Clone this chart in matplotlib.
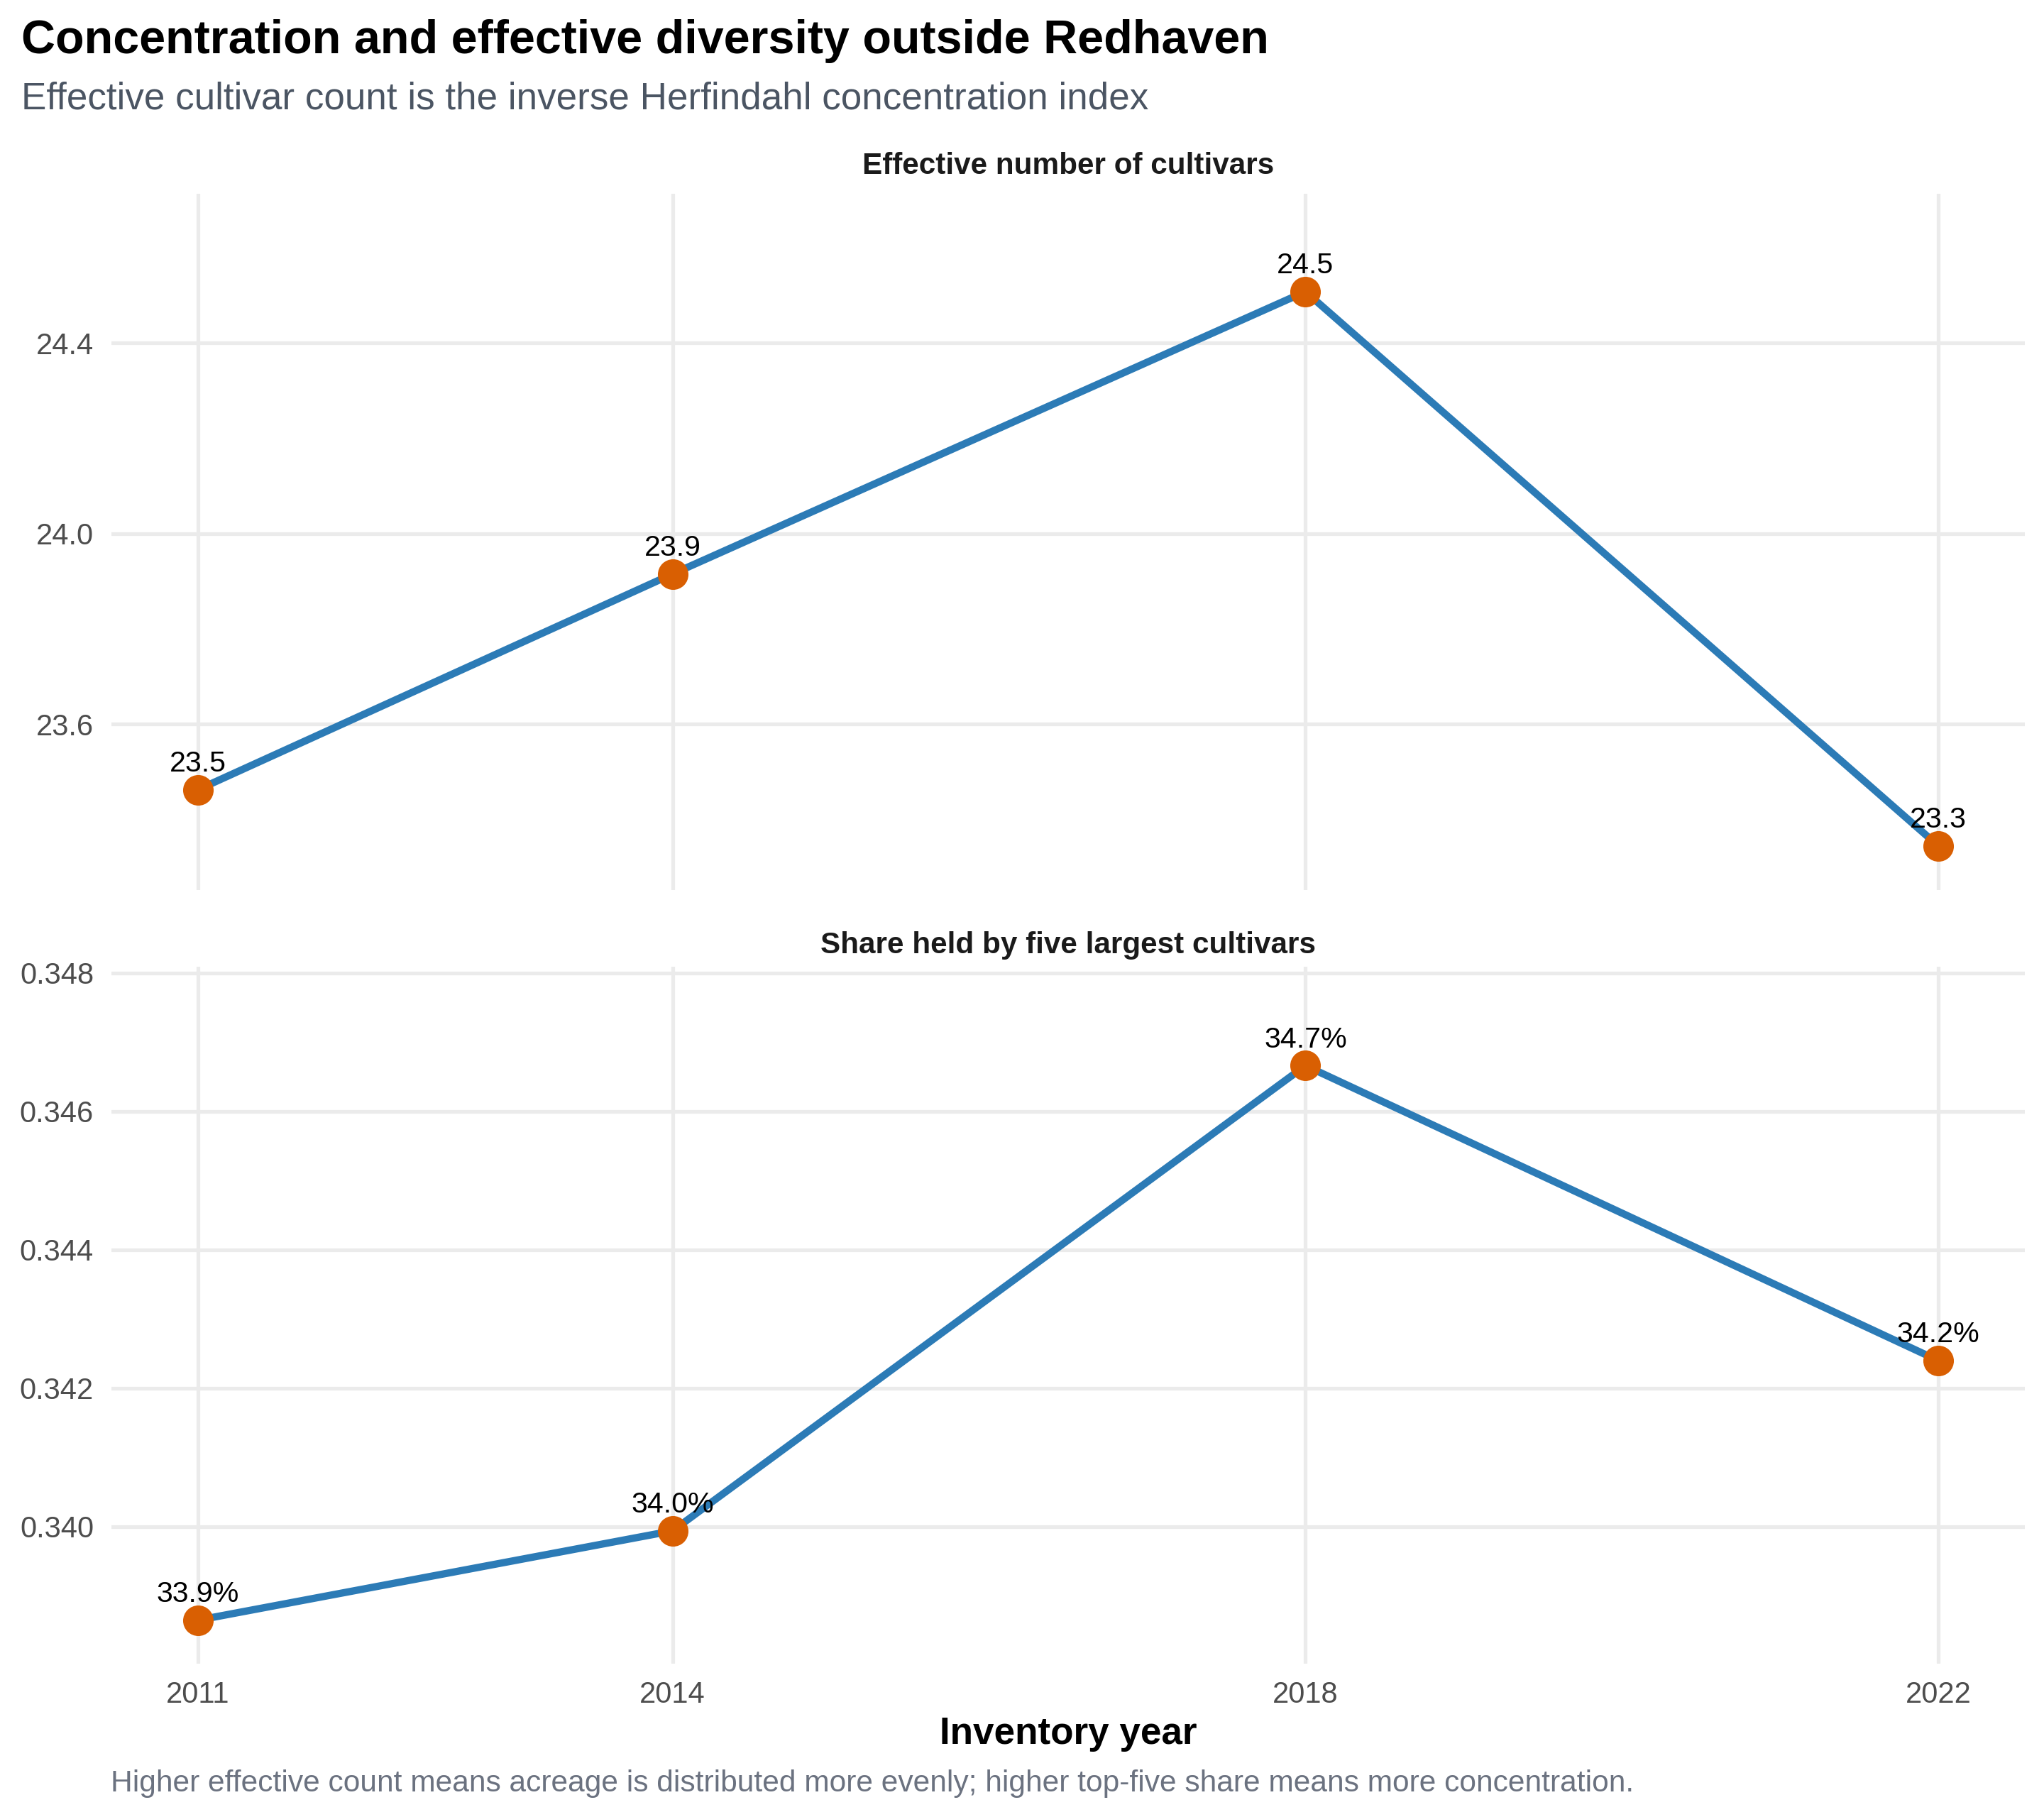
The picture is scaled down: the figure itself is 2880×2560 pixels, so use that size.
import matplotlib
matplotlib.use("Agg")
import matplotlib.pyplot as plt
from matplotlib.ticker import FixedLocator, FormatStrFormatter

# Datos
years = [2011, 2014, 2018, 2022]
effective_count = [23.462, 23.915, 24.508, 23.344]
top5_share = [0.33865, 0.33994, 0.34666, 0.34240]

count_labels = [f"{v:.1f}" for v in effective_count]
share_labels = [f"{v * 100:.1f}%" for v in top5_share]

# Estilo
plt.rcParams.update({
    "font.family": ["Liberation Sans", "DejaVu Sans"],
    "axes.facecolor": "white",
    "figure.facecolor": "white",
})

W, H = 2880, 2560
DPI = 200
fig = plt.figure(figsize=(W / DPI, H / DPI), dpi=DPI)

LINE_COLOR = "#2c7bb6"
POINT_COLOR = "#d95f02"
GRID_COLOR = "#ebebeb"
TICK_COLOR = "#4d4d4d"

left = 157 / W
width = (2853 - 157) / W
ax_top = fig.add_axes([left, 1 - 1254 / H, width, (1254 - 273) / H])
ax_bot = fig.add_axes([left, 1 - 2344 / H, width, (2344 - 1362) / H])

panels = [
    (ax_top, effective_count, count_labels, (23.2512, 24.7135), [23.6, 24.0, 24.4], "%.1f"),
    (ax_bot, top5_share, share_labels, (0.338021, 0.348089),
     [0.340, 0.342, 0.344, 0.346, 0.348], "%.3f"),
]

for ax, vals, labels, ylim, yticks, fmt in panels:
    ax.plot(years, vals, color=LINE_COLOR, linewidth=3.7, zorder=3,
            solid_capstyle="butt")
    ax.plot(years, vals, linestyle="none", marker="o", markersize=15.5,
            color=POINT_COLOR, markeredgewidth=0, zorder=4)
    for x, y, lab in zip(years, vals, labels):
        ax.annotate(lab, (x, y), xytext=(0, 9.2), textcoords="offset points",
                    ha="center", va="baseline", fontsize=14.8, color="black",
                    zorder=5)
    ax.set_xlim(2010.453, 2022.547)
    ax.set_ylim(*ylim)
    ax.xaxis.set_major_locator(FixedLocator(years))
    ax.yaxis.set_major_locator(FixedLocator(yticks))
    ax.yaxis.set_major_formatter(FormatStrFormatter(fmt))
    ax.grid(True, color=GRID_COLOR, linewidth=1.9, zorder=0)
    ax.set_axisbelow(True)
    for s in ax.spines.values():
        s.set_visible(False)
    ax.tick_params(axis="both", length=0, labelsize=15.0, labelcolor=TICK_COLOR)
    ax.tick_params(axis="y", pad=9)
    ax.tick_params(axis="x", pad=8.6)

ax_top.tick_params(axis="x", labelbottom=False)

# Títulos
cx = left + width / 2
fig.text(30 / W, 1 - 75 / H, "Concentration and effective diversity outside Redhaven",
         fontsize=23.9, fontweight="bold", color="black", va="baseline", ha="left")
fig.text(30 / W, 1 - 153 / H, "Effective cultivar count is the inverse Herfindahl concentration index",
         fontsize=19.07, color="#4b5563", va="baseline", ha="left")
fig.text(cx, 1 - 245 / H, "Effective number of cultivars", fontsize=15.2,
         fontweight="bold", color="#1a1a1a", ha="center", va="baseline")
fig.text(cx, 1 - 1343 / H, "Share held by five largest cultivars", fontsize=15.2,
         fontweight="bold", color="#1a1a1a", ha="center", va="baseline")
fig.text(cx, 1 - 2457 / H, "Inventory year", fontsize=19.1, fontweight="bold",
         color="black", ha="center", va="baseline")
fig.text(156 / W, 1 - 2524 / H,
         "Higher effective count means acreage is distributed more evenly; higher top-five share means more concentration.",
         fontsize=15.3, color="#6b7280", ha="left", va="baseline")

fig.savefig("out.png", dpi=DPI)
